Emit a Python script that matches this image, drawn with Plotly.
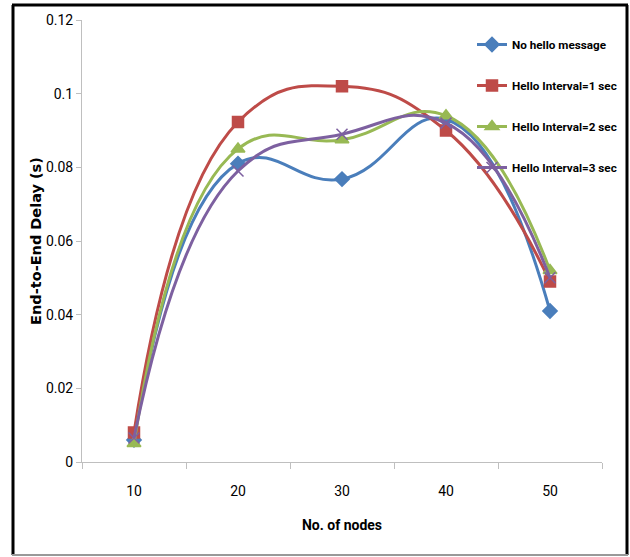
import plotly.graph_objects as go

nodes = ["10", "20", "30", "40", "50"]
no_hello = [0.006, 0.081, 0.0768, 0.093, 0.041]
hello_1 = [0.008, 0.0923, 0.102, 0.090, 0.049]
hello_2 = [0.005, 0.085, 0.0875, 0.094, 0.052]
hello_3 = [0.0065, 0.079, 0.089, 0.092, 0.050]
y_ticks = [0, 0.02, 0.04, 0.06, 0.08, 0.1, 0.12]
y_tick_text = ["0", "0.02", "0.04", "0.06", "0.08", "0.1", "0.12"]

series = [
    ("No hello message", no_hello, "#4A7EBB", "diamond", 11),
    ("Hello Interval=1 sec", hello_1, "#BE4B48", "square", 11),
    ("Hello Interval=2 sec", hello_2, "#98B954", "triangle-up", 12),
    ("Hello Interval=3 sec", hello_3, "#7D60A0", "x-thin-open", 11),
]

narrow = "Roboto, Liberation Sans, sans-serif"

fig = go.Figure()
for i, (name, vals, col, sym, sz) in enumerate(series):
    fig.add_trace(go.Scatter(
        x=nodes, y=vals, name=name, legendgroup=str(i),
        mode="lines+markers",
        line=dict(color=col, width=3, shape="spline", smoothing=1.3),
        marker=dict(symbol=sym, size=sz, color=col,
                    line=dict(color=col, width=1.5)),
    ))

L, R, T, B = 82, 28, 20, 95
W, H = 630, 557
pw, ph = W - L - R, H - T - B

def px(x):
    return (x - L) / pw

def py(y):
    return (H - B - y) / ph

fig.update_layout(
    width=W, height=H,
    margin=dict(l=L, r=R, t=T, b=B, autoexpand=False),
    paper_bgcolor="white", plot_bgcolor="white",
    showlegend=True,
    legend=dict(
        x=px(472), y=py(30), xanchor="left", yanchor="top",
        font=dict(family=narrow, size=11.7, color="black", weight="bold"),
        bgcolor="rgba(0,0,0,0)", tracegroupgap=22,
        itemwidth=30,
    ),
    xaxis=dict(
        type="category", showgrid=False, showline=True,
        linecolor="#BFBFBF", linewidth=1,
        ticks="outside", tickson="boundaries", ticklen=6, tickcolor="#BFBFBF",
        ticklabelstandoff=16,
        tickfont=dict(family=narrow, size=14, color="black"),
        title=dict(text="No. of nodes", font=dict(family=narrow, size=14, color="black", weight="bold"), standoff=22),
        range=[-0.5, 4.5],
    ),
    yaxis=dict(
        range=[0, 0.12], tickvals=y_ticks, ticktext=y_tick_text,
        showgrid=False, showline=True, linecolor="#BFBFBF", linewidth=1,
        ticks="outside", ticklen=5, tickcolor="#BFBFBF",
        tickfont=dict(family=narrow, size=14, color="black"),
        title=dict(text="End-to-End Delay (s)", font=dict(family="DejaVu Sans, Verdana, sans-serif", size=14.5, color="black", weight="bold"), standoff=0),
        zeroline=False,
    ),
    shapes=[
        dict(type="line", xref="paper", yref="paper", x0=px(13), x1=px(13), y0=py(5), y1=py(555), line=dict(color="black", width=3)),
        dict(type="line", xref="paper", yref="paper", x0=px(12), x1=px(628), y0=py(5), y1=py(5), line=dict(color="black", width=3)),
        dict(type="line", xref="paper", yref="paper", x0=px(627), x1=px(627), y0=py(5), y1=py(555), line=dict(color="black", width=3)),
        dict(type="line", xref="paper", yref="paper", x0=px(12), x1=px(628), y0=py(555), y1=py(555), line=dict(color="#999999", width=2)),
    ],
)

fig.write_html("out.html")
